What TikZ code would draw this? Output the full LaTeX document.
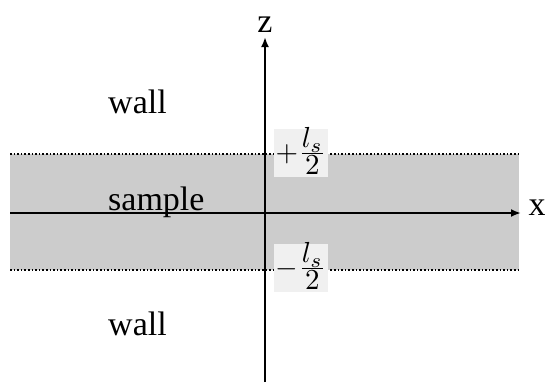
\documentclass[tikz,border=0pt]{standalone}
\usepackage{graphicx}
\usepackage[no-math]{fontspec}
\setmainfont{Liberation Serif}
\usetikzlibrary{arrows.meta}
\definecolor{samplegray}{HTML}{CCCCCC}
\definecolor{labelgray}{HTML}{F0F0F0}
\begin{document}
\begin{tikzpicture}[x=1pt,y=-1pt,
  axis/.style={line width=2.4pt,-{Latex[length=10pt,width=8pt]}},
  bound/.style={line width=1.6pt,dash pattern=on 1.6pt off 2pt},
  txt/.style={font=\fontsize{34}{40}\selectfont,inner sep=0pt,anchor=base west},
  lbl/.style={fill=labelgray,inner sep=0pt,minimum width=54pt,text height=32pt,text depth=16pt,anchor=base}]
\useasboundingbox (0,0) rectangle (545,383);
\fill[samplegray] (10,154) rectangle (519,270);
\coordinate (ul) at (10,154);
\coordinate (ur) at (519,154);
\coordinate (ll) at (10,270);
\coordinate (lr) at (519,270);
\draw[bound] (ul) -- (ur);
\draw[bound] (ll) -- (lr);
\coordinate (xl) at (10,213);
\coordinate (xr) at (521,213);
\coordinate (zb) at (265,382);
\coordinate (zt) at (265,37);
\draw[axis] (xl) -- (xr);
\draw[axis] (zb) -- (zt);
\node[txt,anchor=base] (xlab) at (537,215) {x};
\node[txt,anchor=base] (zlab) at (265,32) {z};
\node[txt] (wall1) at (108,113) {wall};
\node[txt] (wall2) at (108,335) {wall};
\node[txt] (samp) at (108,210) {sample};
\node[lbl] (plus) at (301,161) {\scalebox{2.9}{$+\frac{\textstyle l_s}{\textstyle 2}$}};
\node[lbl] (minus) at (301,276) {\scalebox{2.9}{$-\frac{\textstyle l_s}{\textstyle 2}$}};
\end{tikzpicture}
\end{document}
